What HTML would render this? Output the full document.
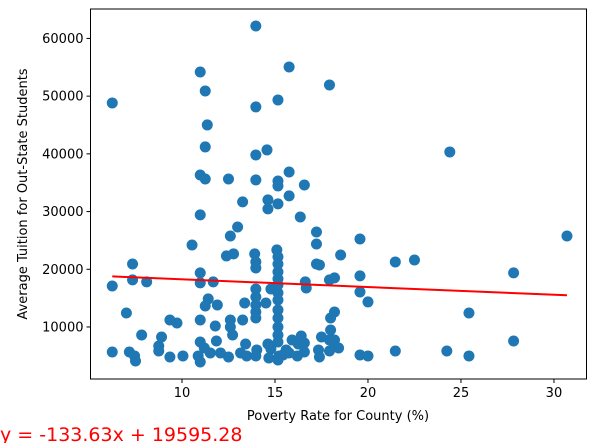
<!DOCTYPE html>
<html><head><meta charset="utf-8"><style>
body{margin:0;background:#fff;width:595px;height:443px;overflow:hidden}
svg text{font-family:"DejaVu Sans","Liberation Sans",sans-serif}
</style></head><body>
<svg id="chart" width="595" height="443" xmlns="http://www.w3.org/2000/svg">
<g id="marks"></g>
<g id="axes"></g>
<text x="338" y="420" font-size="13" text-anchor="middle">Poverty Rate for County (%)</text>
<text transform="translate(27,194) rotate(-90)" font-size="13" text-anchor="middle">Average Tuition for Out-State Students</text>
<text x="0" y="441" font-size="19" fill="red">y = -133.63x + 19595.28</text>
</svg>
<script>
const povertyX=[
6.25,13.97,15.76,10.98,17.93,11.25,15.16,13.97,11.36,11.25,
13.97,14.57,10.98,11.25,12.5,13.97,15.16,15.16,15.76,16.58,
15.76,13.26,14.62,14.62,15.16,10.98,16.36,12.99,12.6,17.23,
10.54,17.23,13.91,15.1,12.77,12.39,13.97,13.97,15.16,15.16,
15.16,17.23,17.39,7.34,10.98,10.98,7.34,6.25,8.1,11.68,
11.41,11.25,14.78,13.97,13.97,13.97,13.97,13.97,15.16,15.16,
15.16,15.16,15.16,15.16,15.16,15.16,15.16,16.63,16.68,14.51,
13.37,11.9,17.93,7.01,9.73,9.35,10.98,11.85,12.6,10.98,
11.79,12.6,13.26,12.72,7.83,8.9,8.75,8.75,7.17,10.05,
7.45,7.5,9.35,10.87,11.52,12.07,12.5,13.15,13.42,13.48,
10.98,14.02,14.78,14.62,14.67,13.97,15.22,15.43,15.16,15.6,
15.76,16.25,16.2,15.92,16.58,17.34,17.39,17.93,18.2,17.93,
17.99,17.5,24.4,19.57,18.53,19.57,18.2,21.47,22.5,27.83,
30.7,19.57,20,18.2,17.99,25.43,27.83,18.2,19.57,20,
21.47,24.24,25.43,18.42,16.58,16.41,6.25,11.2];
const tuitionY=[
48820,62160,55060,54190,51940,50900,49340,48130,45010,41200,
39810,40680,36340,35650,35650,35480,35300,34440,36860,34610,
32710,31670,32020,30460,31330,29420,29060,27330,25770,26460,
24210,24380,22660,23350,22660,22310,21270,20230,22140,20920,
19540,20920,20750,20920,19370,17640,18160,17100,17810,17810,
14860,13640,16580,16580,15200,13810,12600,11560,18330,17290,
15900,14680,12950,11560,10000,8610,7400,17810,16750,14160,
14160,13810,18160,12430,10690,11210,7400,7570,11210,11210,
10170,10000,11210,8610,8610,8270,6710,5840,5670,4980,
4980,4110,4800,4980,5500,5500,4800,5500,7050,4980,
3940,6020,6190,7050,4630,4980,4980,5150,4280,6020,
5500,7050,4980,7750,5670,6020,4800,5840,6710,7750,
9480,8270,40330,25250,22480,18850,18500,21270,21610,19370,
25770,16070,14340,12600,11560,12430,7570,7750,5150,4980,
5840,5840,4980,6360,7230,8440,5670,6360];
const xTicks=[10,15,20,25,30];
const yTicks=[10000,20000,30000,40000,50000,60000];
const slope=-133.63, intercept=19595.28;
const L=90.5,T=9,W=496,H=370;
const xMin=5.08,xMax=31.75,yMin=985,yMax=65100;
const sx=v=>L+(v-xMin)/(xMax-xMin)*W;
const sy=v=>T+H-(v-yMin)/(yMax-yMin)*H;
const NS="http://www.w3.org/2000/svg";
const marks=document.getElementById('marks');
const n=Math.min(povertyX.length,tuitionY.length);
for(let i=0;i<n;i++){
  const c=document.createElementNS(NS,'circle');
  c.setAttribute('cx',sx(povertyX[i]));c.setAttribute('cy',sy(tuitionY[i]));c.setAttribute('r',5.5);c.setAttribute('fill','#1f77b4');
  
  
  marks.appendChild(c);
}
const xs=Math.min(...povertyX), xe=Math.max(...povertyX);
const ln=document.createElementNS(NS,'line');
ln.setAttribute('x1',sx(xs));ln.setAttribute('y1',sy(slope*xs+intercept));
ln.setAttribute('x2',sx(xe));ln.setAttribute('y2',sy(slope*xe+intercept));
ln.setAttribute('stroke','red');ln.setAttribute('stroke-width',2);


marks.appendChild(ln);
const axes=document.getElementById('axes');
const fr=document.createElementNS(NS,'rect');
fr.setAttribute('x',L);fr.setAttribute('y',T);fr.setAttribute('width',W);fr.setAttribute('height',H);
fr.setAttribute('fill','none');fr.setAttribute('stroke','#000');fr.setAttribute('stroke-width',1);


axes.appendChild(fr);
xTicks.forEach(t=>{
  const x=sx(t);
  const tk=document.createElementNS(NS,'line');
  tk.setAttribute('x1',x);tk.setAttribute('x2',x);tk.setAttribute('y1',T+H);tk.setAttribute('y2',T+H+4);tk.setAttribute('stroke','#000');
  
  
  axes.appendChild(tk);
  const tx=document.createElementNS(NS,'text');
  tx.setAttribute('x',x);tx.setAttribute('y',T+H+18);tx.setAttribute('font-size','13');tx.setAttribute('text-anchor','middle');tx.textContent=t;
  
  
  axes.appendChild(tx);
});
yTicks.forEach(t=>{
  const y=sy(t);
  const tk=document.createElementNS(NS,'line');
  tk.setAttribute('x1',L-4);tk.setAttribute('x2',L);tk.setAttribute('y1',y);tk.setAttribute('y2',y);tk.setAttribute('stroke','#000');
  
  
  axes.appendChild(tk);
  const tx=document.createElementNS(NS,'text');
  tx.setAttribute('x',L-7);tx.setAttribute('y',y+4.5);tx.setAttribute('font-size','13');tx.setAttribute('text-anchor','end');tx.textContent=t;
  
  
  axes.appendChild(tx);
});
</script>
</body></html>
